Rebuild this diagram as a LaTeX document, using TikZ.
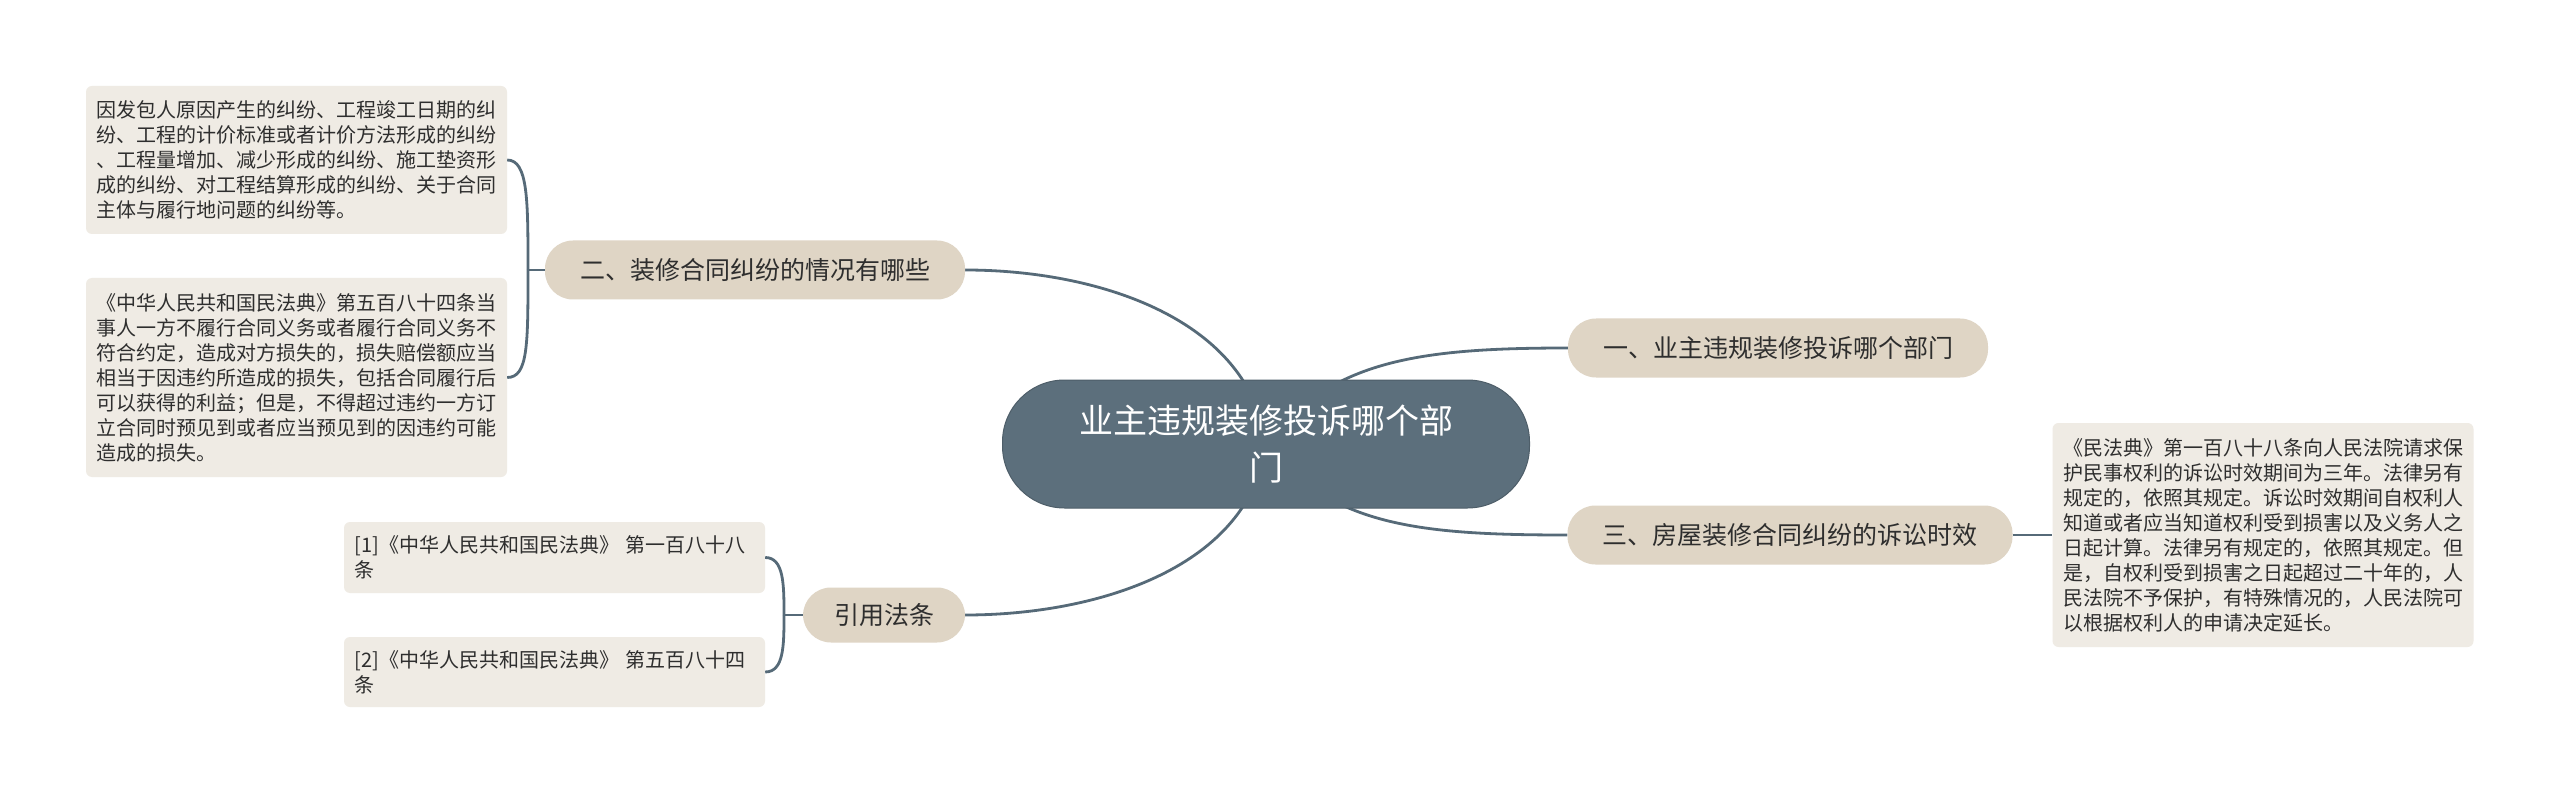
\documentclass[tikz,border=0pt]{standalone}
\usepackage{fontspec}
\setmainfont{Noto Sans CJK SC}
\usetikzlibrary{backgrounds}
\definecolor{rootfill}{HTML}{5C6F7C}
\definecolor{branchfill}{HTML}{DFD5C5}
\definecolor{leaffill}{HTML}{EFEBE4}
\definecolor{linkcol}{HTML}{566A78}
\definecolor{textcol}{HTML}{2E2E2E}
\begin{document}
\begin{tikzpicture}[x=1pt,y=-1pt,
  link/.style={draw=linkcol, line width=2.8pt},
  rootnode/.style={fill=rootfill, draw=rootfill!85!black, line width=1pt, rounded corners=62pt,
    minimum width=527pt, minimum height=128pt, text=white, align=center,
    font=\fontsize{34}{47}\selectfont},
  branch/.style={fill=branchfill, rounded corners=28pt, minimum height=59pt, text=textcol,
    font=\fontsize{25}{30}\selectfont},
  leaf/.style={fill=leaffill, rounded corners=6pt, text width=400pt, inner xsep=10.5pt,
    align=left, text=textcol, font=\fontsize{20}{25}\selectfont}]
\useasboundingbox (0,0) rectangle (2560,794);
\node[rootnode] (root) at (1266,444) {业主违规装修投诉哪个部\\门};
\node[branch, minimum width=420pt] (b1) at (1778,348) {一、业主违规装修投诉哪个部门};
\node[branch, minimum width=445pt] (b3) at (1790,535) {三、房屋装修合同纠纷的诉讼时效};
\node[branch, minimum width=420pt] (b2) at (755,270) {二、装修合同纠纷的情况有哪些};
\node[branch, minimum width=162pt, minimum height=55pt] (b4) at (884,615) {引用法条};
\node[leaf, minimum height=148pt] (l1) at (296.5,160) {因发包人原因产生的纠纷、工程竣工日期的纠\\纷、工程的计价标准或者计价方法形成的纠纷\\、工程量增加、减少形成的纠纷、施工垫资形\\成的纠纷、对工程结算形成的纠纷、关于合同\\主体与履行地问题的纠纷等。};
\node[leaf, minimum height=199pt] (l2) at (296.5,377.5) {《中华人民共和国民法典》第五百八十四条当\\事人一方不履行合同义务或者履行合同义务不\\符合约定，造成对方损失的，损失赔偿额应当\\相当于因违约所造成的损失，包括合同履行后\\可以获得的利益；但是，不得超过违约一方订\\立合同时预见到或者应当预见到的因违约可能\\造成的损失。};
\node[leaf, minimum height=71pt] (r1) at (554.5,557.5) {[1]《中华人民共和国民法典》 第一百八十八\\条};
\node[leaf, minimum height=70pt] (r2) at (554.5,672) {[2]《中华人民共和国民法典》 第五百八十四\\条};
\node[leaf, minimum height=224pt] (l3) at (2263,535) {《民法典》第一百八十八条向人民法院请求保\\护民事权利的诉讼时效期间为三年。法律另有\\规定的，依照其规定。诉讼时效期间自权利人\\知道或者应当知道权利受到损害以及义务人之\\日起计算。法律另有规定的，依照其规定。但\\是，自权利受到损害之日起超过二十年的，人\\民法院不予保护，有特殊情况的，人民法院可\\以根据权利人的申请决定延长。};
\coordinate (j2) at (528,270);
\coordinate (j4) at (784,615);
\begin{pgfonlayer}{background}
\fill[white] (0,0) rectangle (2560,794);
\draw[link] (root.center) .. controls (1330,360) and (1420,348) .. (b1.west);
\draw[link] (root.center) .. controls (1330,526) and (1420,535) .. (b3.west);
\draw[link] (root.center) .. controls (1250,320) and (1100,270) .. (b2.east);
\draw[link] (root.center) .. controls (1250,566) and (1100,615) .. (b4.east);
\end{pgfonlayer}
\draw[link] (b2.west) -- (j2);
\draw[link] (j2) .. controls (528,200) and (528,160) .. (l1.east);
\draw[link] (j2) .. controls (528,345) and (528,377.5) .. (l2.east);
\draw[link] (b4.west) -- (j4);
\draw[link] (j4) .. controls (784,585) and (784,557.5) .. (r1.east);
\draw[link] (j4) .. controls (784,645) and (784,672) .. (r2.east);
\draw[link] (b3.east) -- (l3.west);
\end{tikzpicture}
\end{document}
